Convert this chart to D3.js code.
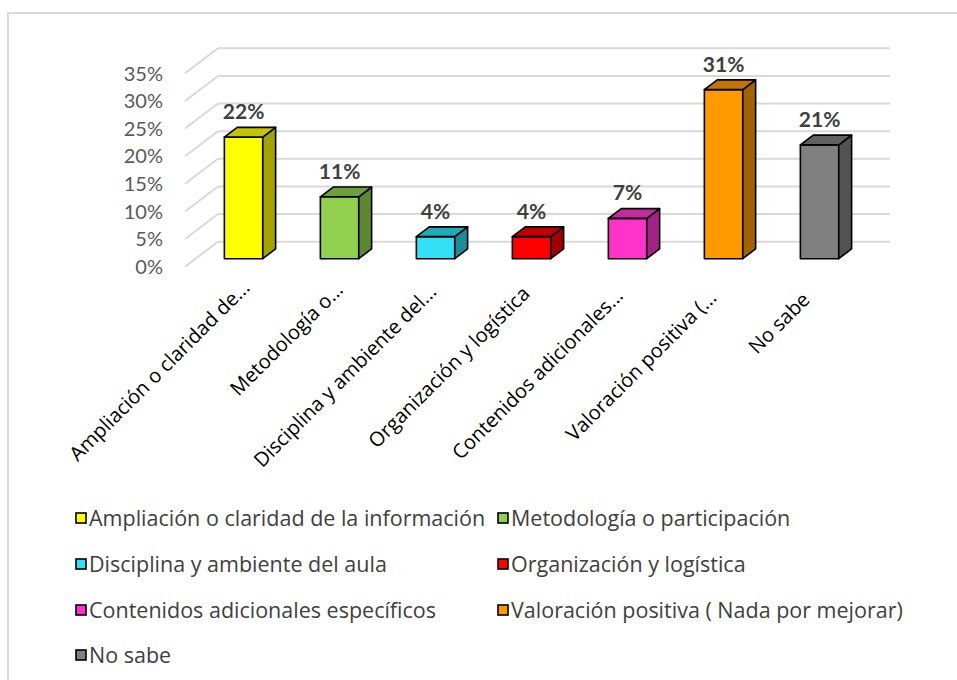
<!DOCTYPE html>
<html lang="es">
<head>
<meta charset="utf-8">
<title>Aspectos por mejorar</title>
<script src="https://cdnjs.cloudflare.com/ajax/libs/d3/7.8.5/d3.min.js"></script>
<style>
  body { margin: 0; background: #fff; }
  svg { display: block; font-family: Lato, "Open Sans", sans-serif; }
</style>
</head>
<body>
<script>
// categories (axis labels are truncated like in the original)
var categories = [
  "Ampliación o claridad de la información",
  "Metodología o participación",
  "Disciplina y ambiente del aula",
  "Organización y logística",
  "Contenidos adicionales específicos",
  "Valoración positiva ( Nada por mejorar)",
  "No sabe"
];
var axisLabels = [
  "Ampliación o claridad de...",
  "Metodología o...",
  "Disciplina y ambiente del...",
  "Organización y logística",
  "Contenidos adicionales...",
  "Valoración positiva (...",
  "No sabe"
];
var values = [0.22, 0.112, 0.04, 0.04, 0.073, 0.306, 0.206];
var yTicks = [0, 0.05, 0.10, 0.15, 0.20, 0.25, 0.30, 0.35];

var frontColors = ["#FFFF00", "#92D050", "#33E0F5", "#FF0000", "#FF33CC", "#FF9900", "#808080"];
var topColors   = ["#C4C400", "#6F9E3D", "#22A9BA", "#C00000", "#C42A9E", "#C27400", "#616161"];
var sideColors  = ["#A3A300", "#5E8733", "#1C8C9A", "#A00000", "#A42286", "#A36200", "#525252"];

var W = 957, H = 680;
var svg = d3.select("body").append("svg")
    .attr("width", W)
    .attr("height", H);

// chart border
svg.append("rect")
    .attr("x", 8).attr("y", 13)
    .attr("width", 1000).attr("height", 1000)
    .attr("fill", "none")
    .attr("stroke", "#d9d9d9")
    .attr("stroke-width", 2);

// 3d floor geometry
var floorX0 = 185, floorX1 = 857;
var depthX = 33, depthY = -25;     // front edge -> back wall
var barOff = 0.32, barDepth = 0.39; // bar position inside the depth

var x = d3.scaleBand()
    .domain(categories)
    .range([floorX0, floorX1])
    .paddingInner(0.6)
    .paddingOuter(0.3);

var y = d3.scaleLinear()
    .domain([0, 0.35])
    .range([266.7, 73.3]);

// gridlines: diagonal on the side wall + line on the back wall
var grid = svg.append("g");
grid.selectAll("line.diag")
    .data(yTicks)
    .enter()
    .append("line")
    .attr("class", "diag")
    .attr("x1", floorX0).attr("y1", function(d) { return y(d); })
    .attr("x2", floorX0 + depthX).attr("y2", function(d) { return y(d) + depthY; })
    .attr("stroke", "#d9d9d9").attr("stroke-width", 2);
grid.selectAll("line.back")
    .data(yTicks)
    .enter()
    .append("line")
    .attr("class", "back")
    .attr("x1", floorX0 + depthX).attr("y1", function(d) { return y(d) + depthY; })
    .attr("x2", floorX1 + depthX).attr("y2", function(d) { return y(d) + depthY; })
    .attr("stroke", "#d9d9d9").attr("stroke-width", 2);

// y axis labels
svg.append("g").selectAll("text")
    .data(yTicks)
    .enter()
    .append("text")
    .attr("x", 163)
    .attr("y", function(d) { return y(d); })
    .attr("dy", "0.36em")
    .attr("text-anchor", "end")
    .attr("font-size", "20px")
    .attr("fill", "#595959")
    .text(d3.format(".0%"));

// bars
var fx = depthX * barOff, fy = depthY * barOff;
var bdx = depthX * barDepth, bdy = depthY * barDepth;
var bars = svg.append("g").selectAll("g")
    .data(values)
    .enter()
    .append("g");

function pts(a) { return a.map(function(p) { return p.join(","); }).join(" "); }

bars.each(function(d, i) {
  var g = d3.select(this);
  var x0 = x(categories[i]) + fx, x1 = x0 + x.bandwidth();
  var yb = y(0) + fy, yt = y(d) + fy;
  g.append("rect")
      .attr("x", x0).attr("y", yt)
      .attr("width", x1 - x0).attr("height", yb - yt)
      .attr("fill", frontColors[i]);
  g.append("polygon")
      .attr("points", pts([[x1, yt], [x1, yb], [x1 + bdx, yb + bdy], [x1 + bdx, yt + bdy]]))
      .attr("fill", sideColors[i]);
  g.append("polygon")
      .attr("points", pts([[x0, yt], [x1, yt], [x1 + bdx, yt + bdy], [x0 + bdx, yt + bdy]]))
      .attr("fill", topColors[i]);
  g.selectAll("rect, polygon")
      .attr("stroke", "#000")
      .attr("stroke-width", 1.6)
      .attr("stroke-linejoin", "round");
  g.append("text")
      .attr("x", (x0 + x1) / 2)
      .attr("y", yt - 18)
      .attr("text-anchor", "middle")
      .attr("font-size", "21px")
      .attr("font-weight", "bold")
      .attr("fill", "#404040")
      .text(d3.format(".0%")(d));
});

// category labels, rotated
var lx = d3.scalePoint().domain(categories).range([251, 811]);
var ly = d3.scaleLinear().domain([0, categories.length - 1]).range([289, 301]);
svg.append("g").selectAll("text")
    .data(axisLabels)
    .enter()
    .append("text")
    .attr("transform", function(d, i) {
      return "translate(" + lx(categories[i]) + "," + ly(i) + ") rotate(-45)";
    })
    .attr("text-anchor", "end")
    .attr("font-family", "'Open Sans', sans-serif")
    .attr("font-size", "20px")
    .attr("fill", "#000")
    .text(function(d) { return d; });

// legend
var legX = [76, 498], legY = [518, 564, 610, 655];
var leg = svg.append("g").selectAll("g")
    .data(categories)
    .enter()
    .append("g")
    .attr("transform", function(d, i) {
      return "translate(" + legX[i % 2] + "," + legY[Math.floor(i / 2)] + ")";
    });
leg.append("rect")
    .attr("x", 0).attr("y", -5)
    .attr("width", 10).attr("height", 10)
    .attr("fill", function(d, i) { return frontColors[i]; })
    .attr("stroke", "#000")
    .attr("stroke-width", 1.6);
leg.append("text")
    .attr("x", 13)
    .attr("dy", "0.36em")
    .attr("font-family", "'Open Sans', sans-serif")
    .attr("font-size", "21.5px")
    .attr("fill", "#404040")
    .text(function(d) { return d; });
</script>
</body>
</html>
